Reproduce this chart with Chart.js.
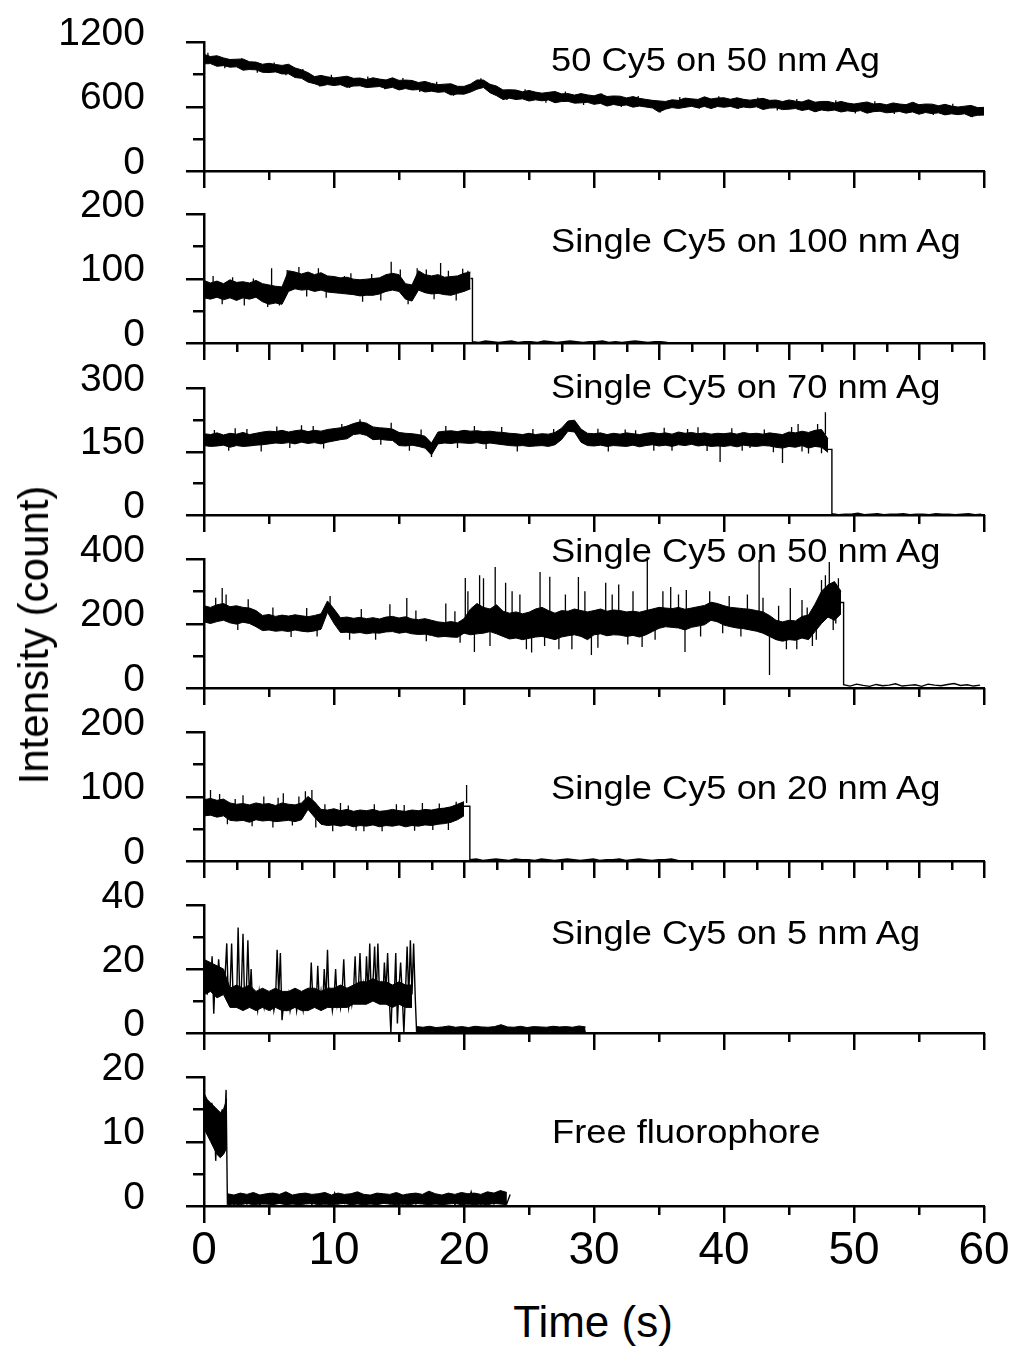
<!DOCTYPE html>
<html>
<head>
<meta charset="utf-8">
<script src="https://cdn.jsdelivr.net/npm/chart.js@4.4.1/dist/chart.umd.min.js"></script>
<style>
  html, body { margin: 0; padding: 0; background: #ffffff; }
  #wrap { position: relative; width: 1011px; height: 1349px; overflow: hidden; background: #fff; }
  #wrap canvas { position: absolute; left: 0; }
  .txt { position: absolute; font-family: 'Liberation Sans', Arial, Helvetica, sans-serif; color: #000; white-space: nowrap; line-height: 1; }
</style>
</head>
<body>
<div id="wrap"></div>
<script>
// ================= DATA =================
const panelLabels = [
  '50 Cy5 on 50 nm Ag',
  'Single Cy5 on 100 nm Ag',
  'Single Cy5 on 70 nm Ag',
  'Single Cy5 on 50 nm Ag',
  'Single Cy5 on 20 nm Ag',
  'Single Cy5 on 5 nm Ag',
  'Free fluorophore'
];
const xTickLabels = [0, 10, 20, 30, 40, 50, 60];
const xTitle = 'Time (s)';
const yTitle = 'Intensity (count)';

const p1YTicks = [0, 600, 1200];
const p2YTicks = [0, 100, 200];
const p3YTicks = [0, 150, 300];
const p4YTicks = [0, 200, 400];
const p5YTicks = [0, 100, 200];
const p6YTicks = [0, 20, 40];
const p7YTicks = [0, 10, 20];

// Dense noisy traces are read as an upper (Hi) and lower (Lo) envelope of the
// noise band, plus isolated spikes [time, band level, spike value], plus the
// bleached tail. Drops: [band end time, drop time, level before drop].

// ---- Panel 1: 50 Cy5 on 50 nm Ag ----
const p1EnvStart = 0, p1EnvStep = 0.5;
const p1Hi = [
  1085,1065,1072,1052,1037,1040,1042,1016,1013,993, 1002,991,982,993,959,941,915,878,889,876,
  866,874,882,862,865,851,867,855,847,867, 843,846,842,823,833,815,803,808,811,788,
  787,809,847,846,807,790,754,756,753,737, 749,734,724,732,739,718,720,706,720,708,
  699,718,693,698,696,680,692,676,666,657, 652,647,662,657,678,671,666,690,670,679,
  681,667,681,667,659,668,676,657,660,646, 661,650,642,663,640,647,647,633,647,632,
  623,633,642,624,628,616,633,623,617,639, 617,623,622,607,620,604,595,603,610,590,
  592
];
const p1Lo = [
  997,999,974,980,966,969,938,944,941,918, 916,922,903,904,870,862,827,812,791,804,
  795,803,778,790,793,776,781,786,768,778, 754,767,754,757,735,743,732,737,707,716,
  715,734,761,777,728,701,665,677,665,671, 651,662,653,661,635,646,648,631,634,639,
  620,629,604,619,608,614,594,604,595,586, 548,575,590,582,592,602,587,601,581,600,
  593,601,583,595,588,597,572,585,588,571, 575,581,563,574,551,568,559,567,549,560,
  552,562,538,552,556,541,547,554,538,550, 528,544,534,541,522,532,524,532,506,518,
  520
];
const p1Spikes = [
  [0.3,1040,1100],[1.6,1015,955],[2.9,990,1048],[4.1,973,915],[5.4,953,1010],[6.3,945,890],
  [7.6,895,950],[8.9,840,785],[9.8,838,895],[11.2,830,772],[12.6,822,880],[13.9,815,760],
  [15.3,806,865],[16.6,789,735],[17.9,773,830],[19.2,756,700],[21.3,805,862],[23.3,716,660],
  [24.7,702,760],[26.3,691,635],[27.8,681,740],[29.2,672,615],[30.6,662,720],[32.1,650,595],
  [33.4,640,698],[35.1,602,545],[36.6,628,688],[38.1,634,578],[39.6,636,695],[41.1,632,576],
  [42.6,626,683],[44.1,620,562],[45.6,612,670],[47.1,606,550],[48.6,600,658],[50.1,592,535],
  [51.6,589,648],[53.1,586,530],[54.6,584,642],[56.1,577,520],[57.6,567,625],[59.1,558,500]
];

// ---- Panel 2: Single Cy5 on 100 nm Ag ----
const p2EnvStart = 0, p2EnvStep = 0.5;
const p2Hi = [
  97,93,96,92,98,94,95,93,97,92, 90,88,87,112,110,107,110,106,109,104,
  103,101,102,99,98,99,100,101,106,108, 106,92,90,112,106,104,106,102,103,104,
  108,110
];
const p2Lo = [
  70,68,71,67,70,66,70,68,71,64, 60,62,60,80,84,82,83,80,82,79,
  78,77,76,75,73,74,74,76,80,82, 80,68,65,82,78,76,77,75,74,77,
  80,84
];
const p2Spikes = [
  [0.7,82,104],[1.4,82,60],[2.2,82,102],[3.1,82,58],[3.8,82,100],[4.9,70,56],[5.2,90,116],
  [5.8,70,58],[6.4,80,113],[7.3,95,118],[7.9,95,72],[8.8,94,116],[9.4,92,70],[10.8,95,104],
  [11.3,88,108],[12.2,86,64],[12.9,87,107],[13.6,88,66],[14.4,100,126],[15.1,93,114],
  [15.7,80,60],[16.4,80,116],[17.1,92,114],[17.7,90,68],[18.2,100,124],[18.8,89,112],
  [19.4,88,66],[19.9,92,115],[20.3,100,112]
];
const p2Drop = [20.5, 20.65, 100];
const p2OffStep = 0.5;
const p2Off = [2,1,3,2,1,2,3,1,2,2,1,3,2,1,2,3,2,1,2,2,3,1,2,1,2,3,2,1,2,2,1];

// ---- Panel 3: Single Cy5 on 70 nm Ag ----
const p3EnvStart = 0, p3EnvStep = 0.5;
const p3Hi = [
  192,190,194,189,193,191,195,190,193,196, 198,197,200,196,199,201,197,200,198,202,
  204,206,210,216,220,217,208,206,205,203, 195,193,192,190,186,170,196,198,199,197,
  200,198,199,197,198,196,195,193,192,190, 193,190,192,191,195,205,222,224,203,193,
  192,194,190,193,191,194,192,190,193,195, 192,194,191,196,193,195,192,194,191,193,
  192,194,191,195,192,193,191,194,192,190, 196,194,198,195,200,202,180
];
const p3Lo = [
  164,162,163,165,160,164,162,163,165,166, 168,170,169,171,168,172,169,171,168,172,
  175,178,180,190,192,188,178,179,177,176, 164,163,165,162,158,142,168,170,169,171,
  170,169,171,168,170,168,166,164,163,164, 162,163,164,162,166,178,198,196,172,164,
  163,165,162,164,163,162,165,161,164,166, 163,165,162,166,164,167,163,165,162,163,
  162,164,161,165,163,162,164,163,160,158, 162,160,164,158,162,160,148
];
const p3Spikes = [
  [0.8,177,201],[1.9,177,152],[2.4,185,205],[3.3,177,203],[4.4,177,150],[5.6,184,209],
  [6.6,184,158],[7.5,190,212],[8.4,184,210],[9.2,184,157],[10.6,190,215],[12.0,200,226],
  [13.6,192,166],[14.4,192,218],[15.8,178,152],[16.7,178,202],[17.5,150,137],[18.6,184,210],
  [19.5,184,158],[20.8,184,210],[21.7,184,156],[22.9,184,208],[24.1,178,150],[25.3,178,203],
  [26.9,185,203],[30.3,178,204],[31.1,178,150],[32.4,178,202],[33.2,180,200],[34.6,178,152],
  [35.4,178,206],[36.0,175,152],[37.2,178,203],[38.0,190,207],[38.7,178,151],[39.7,165,125],
  [40.6,178,205],[41.4,178,152],[42.0,180,158],[43.1,178,202],[43.8,178,148],[44.5,165,123],
  [45.2,178,208],[45.7,190,215],[46.0,178,150],[46.5,170,145],[47.2,185,215],[47.5,178,146],
  [47.8,190,243]
];
const p3Drop = [48.0, 48.3, 155];
const p3OffStep = 0.5;
const p3Off = [3,1,2,2,4,1,2,3,1,2,2,3,1,2,2,1,3,2,2,1,2,3,1,2];

// ---- Panel 4: Single Cy5 on 50 nm Ag ----
const p4EnvStart = 0, p4EnvStep = 0.5;
const p4Hi = [
  255,250,258,262,252,255,250,248,240,225, 228,222,226,223,227,224,221,225,230,270,
  245,218,220,216,219,215,218,214,220,222, 217,221,214,212,215,210,205,203,206,202,
  215,245,262,250,245,258,238,232,236,230, 235,245,250,240,232,240,238,245,240,236,
  240,245,238,242,240,236,238,235,240,245, 250,248,246,250,244,248,252,256,266,262,
  255,250,248,246,244,240,236,225,210,205, 210,208,222,226,260,300,320,330,300
];
const p4Lo = [
  205,200,206,210,202,198,204,200,190,178, 180,176,178,175,180,176,174,177,182,235,
  200,172,173,170,172,168,171,170,174,175, 170,173,168,166,167,163,158,160,158,157,
  170,165,168,170,175,168,160,152,155,150, 154,158,160,155,150,158,162,165,160,150,
  165,168,162,165,164,160,163,158,165,175, 185,190,188,186,180,188,192,196,210,205,
  195,190,186,184,180,176,170,160,150,145, 150,148,155,150,175,200,220,210,230
];
const p4Spikes = [
  [0.9,230,280],[1.4,240,310],[1.7,230,290],[2.6,225,180],[3.4,225,275],[5.3,200,250],
  [6.7,200,158],[7.9,200,248],[8.7,200,160],[9.7,250,285],[11.2,195,150],[12.1,195,245],
  [13.2,195,150],[14.3,200,260],[15.6,200,279],[16.3,190,240],[17.1,190,145],[18.6,200,262],
  [19.3,180,238],[19.7,180,140],[20.1,210,341],[20.3,200,300],[20.8,180,112],[21.2,250,350],
  [21.5,200,340],[22.0,200,130],[22.4,250,375],[23.2,230,326],[23.7,190,300],[24.3,220,290],
  [24.8,180,120],[25.2,190,110],[25.85,230,360],[26.2,170,130],[26.6,230,345],[27.3,170,120],
  [27.8,200,290],[28.3,200,120],[28.8,230,344],[29.3,200,300],[29.8,160,102],[30.3,200,125],
  [30.9,230,326],[31.4,200,290],[31.9,230,321],[32.6,180,135],[33.0,200,300],[33.7,170,127],
  [34.1,230,397],[34.7,210,150],[35.3,220,300],[35.9,240,313],[36.5,240,290],[37.0,200,112],
  [37.1,240,304],[38.2,225,160],[38.9,225,300],[39.9,230,170],[40.4,230,285],[41.3,200,160],
  [41.8,215,290],[42.7,230,397],[43.0,205,280],[43.5,180,40],[44.2,180,255],[44.8,160,120],
  [45.1,200,310],[45.6,175,120],[46.0,210,273],[46.4,180,250],[46.8,190,130],[47.1,220,150],
  [47.5,280,335],[47.8,260,350],[48.1,300,391],[48.4,250,180],[48.6,280,200],[48.8,300,340]
];
const p4Drop = [49.0, 49.2, 265];
const p4OffStep = 0.5;
const p4Off = [10,6,12,8,5,11,7,9,13,6,8,10,5,12,9,7,11,14,8,10,6,9];

// ---- Panel 5: Single Cy5 on 20 nm Ag ----
const p5EnvStart = 0, p5EnvStep = 0.5;
const p5Hi = [
  95,97,94,96,90,88,89,87,90,88, 89,86,90,88,87,90,100,92,80,79,
  81,78,80,77,79,78,80,77,78,80, 78,77,79,78,80,79,81,82,84,88,
  92
];
const p5Lo = [
  70,71,68,70,63,62,63,60,64,62, 63,61,62,63,61,64,80,68,57,55,
  56,54,56,53,55,54,56,53,55,54, 56,53,55,54,56,55,57,58,60,64,
  70
];
const p5Spikes = [
  [0.5,90,110],[1.2,85,104],[1.8,70,57],[2.4,75,96],[3.0,80,102],[3.7,75,54],[4.6,80,100],
  [5.3,70,52],[5.7,75,98],[6.1,80,105],[6.8,75,55],[7.3,75,100],[7.8,85,108],[8.3,90,110],
  [8.6,70,52],[9.3,66,88],[9.9,66,46],[10.5,70,90],[11.1,66,86],[11.7,66,47],[12.3,65,46],
  [13.1,66,88],[13.7,66,46],[14.8,70,88],[15.4,66,87],[16.2,66,47],[16.8,70,90],[17.6,65,48],
  [18.1,66,89],[18.8,66,48],[19.4,70,92],[20.2,90,118]
];
const p5Drop = [20.0, 20.45, 85];
const p5OffStep = 0.5;
const p5Off = [2,3,1,2,3,2,1,3,2,2,1,3,2,1,2,3,2,1,2,3,1,2,2,3,1,2,3,2,1,2,2,3,1];

// ---- Panel 6: Single Cy5 on 5 nm Ag ----
const p6EnvStart = 0, p6EnvStep = 0.5;
const p6Hi = [23,22,21,20,14,15,14,15,13,14, 13,14,13,13,14,13,14,14,13,14, 14,15,14,15,16,16,17,16,16,15, 16,15,15];
const p6Lo = [12,13,11,12,8,8,7,8,7,8, 7,8,7,7,8,7,7,8,7,8, 8,8,8,9,9,9,10,9,9,8, 9,8,8];
const p6OnStart = 0, p6OnStep = 0.125;
const p6On = [
  22,17,12,21,15,24,6,19,14,23,16,20,13,18,
  28,10,13,28,9,12,8,33,11,14,31,9,12,29,10,20,8,12,10,7,13,9,11,8,12,9,11,
  8,12,7,10,26,12,25,4,9,
  11,8,12,7,10,9,12,7,11,8,10,7,12,9,11,
  9,22,10,12,8,21,9,13,8,20,10,26,9,12,7,11,20,9,12,8,13,23,10,12,8,14,9,13,24,10,14,
  25,11,15,9,24,12,28,10,16,27,11,28,12,15,10,22,13,25,11,0,14,10,25,3,14,22,12,0,13,27,11,29,12,28,11
];
const p6OffStart = 16.35, p6OffStep = 0.25;
const p6Off = [
  0.6,1.2,0.3,1.0,0.5,1.4,0.2,1.1,0.6,1.3,0.3,0.9,0.5,1.5,0.2,1.1,0.4,1.2,0.3,1.0,
  0.6,1.3,0.2,1.1,0.5,2.0,0.3,1.2,0.4,1.0,0.6,1.4,0.2,1.1,0.5,1.3,0.3,1.0,0.4,1.2,
  0.3,1.5,0.5,1.1,0.2,1.3,0.4,1.0,0.6,1.2,0.3,1.4,0.5
];
const p6OffEnvStart = 16.35, p6OffEnvStep = 0.5;
const p6OffHi = [2.0,1.8,2.1,1.7,1.9,2.2,1.8,2.0,1.7,2.1,1.9,1.8,2.0,2.6,1.9,1.8,2.1,1.7,2.0,1.9,1.8,2.1,1.9,2.0,1.8,2.2,1.9];
const p6OffLo = [0.3,0.2,0.4,0.3,0.2,0.3,0.4,0.2,0.3,0.3,0.2,0.4,0.3,0.2,0.3,0.4,0.2,0.3,0.3,0.2,0.4,0.3,0.2,0.3,0.4,0.2,0.3];

// ---- Panel 7: Free fluorophore ----
const p7EnvStart = 0, p7EnvStep = 0.25;
const p7Hi = [17.5,16.5,16,15.5,15,14.5,15,16.5];
const p7Lo = [12,11,10,9,8,7.5,8,9];
const p7OnStart = 0, p7OnStep = 0.1;
const p7On = [17,13,16.5,11,15,12,16,10,14,7,12,8,14,10,15,9,13,18];
const p7OffStart = 1.8, p7OffStep = 0.25;
const p7Off = [
  0.4,1.3,0.2,1.1,0.5,1.6,0.3,1.2,0.6,1.4,0.2,1.0,0.4,1.8,0.3,1.2,0.5,1.3,0.2,1.5,
  0.4,1.1,0.3,1.4,0.6,1.2,0.2,1.6,0.4,1.1,0.3,1.3,0.5,2.0,0.3,1.2,0.4,1.4,0.2,1.1,
  0.5,1.5,0.3,1.2,0.4,1.3,0.2,1.6,0.5,1.1,0.3,1.4,0.4,1.2,0.2,1.7,0.4,1.3,0.3,1.1,
  0.5,1.4,0.2,1.2,0.4,1.5,0.3,1.3,0.5,1.6,0.2,1.2,0.4,1.4,0.3,2.2,0.5,1.3,0.2,1.5,
  0.4,1.2,0.3,1.6,0.5,1.3,0.4,1.8
];
const p7OffEnvStart = 1.8, p7OffEnvStep = 0.5;
const p7OffHi = [1.9,1.7,2.0,1.8,2.1,1.7,1.9,2.0,1.8,2.2,1.7,1.9,2.0,1.8,1.9,2.1,1.7,2.0,1.8,1.9,2.2,1.8,1.7,2.0,1.9,1.8,2.1,1.7,1.9,2.0,1.8,2.3,1.9,1.7,2.0,1.8,2.1,1.9,2.0,1.8,2.2,2.0,2.4,2.1];
const p7OffLo = [0.2,0.3,0.2,0.4,0.2,0.3,0.3,0.2,0.4,0.2,0.3,0.2,0.3,0.4,0.2,0.3,0.2,0.3,0.4,0.2,0.3,0.2,0.3,0.2,0.4,0.3,0.2,0.3,0.2,0.4,0.3,0.2,0.3,0.2,0.3,0.4,0.2,0.3,0.2,0.3,0.2,0.4,0.3,0.2];

// ================= BUILD =================
function seg(start, step, vals) {
  return vals.map((v, i) => ({ x: Math.round((start + i * step) * 10000) / 10000, y: v }));
}
function spikePts(list) {
  const out = [];
  list.forEach(([t, base, peak]) => { out.push({ x: t, y: base }, { x: t, y: peak }, { x: t, y: null }); });
  return out;
}
function tail(drop, step, vals) {
  const [from, at, level] = drop;
  return [{ x: from, y: level }, { x: at, y: level }].concat(seg(at, step, vals));
}

const panels = [
  { yTicks: p1YTicks, xMajor: 10,
    bands: [[seg(p1EnvStart, p1EnvStep, p1Lo), seg(p1EnvStart, p1EnvStep, p1Hi)]],
    spikes: p1Spikes, lines: [] },
  { yTicks: p2YTicks, xMajor: 5,
    bands: [[seg(p2EnvStart, p2EnvStep, p2Lo), seg(p2EnvStart, p2EnvStep, p2Hi)]],
    spikes: p2Spikes, lines: [tail(p2Drop, p2OffStep, p2Off)] },
  { yTicks: p3YTicks, xMajor: 10,
    bands: [[seg(p3EnvStart, p3EnvStep, p3Lo), seg(p3EnvStart, p3EnvStep, p3Hi)]],
    spikes: p3Spikes, lines: [tail(p3Drop, p3OffStep, p3Off)] },
  { yTicks: p4YTicks, xMajor: 10,
    bands: [[seg(p4EnvStart, p4EnvStep, p4Lo), seg(p4EnvStart, p4EnvStep, p4Hi)]],
    spikes: p4Spikes, lines: [tail(p4Drop, p4OffStep, p4Off)] },
  { yTicks: p5YTicks, xMajor: 5,
    bands: [[seg(p5EnvStart, p5EnvStep, p5Lo), seg(p5EnvStart, p5EnvStep, p5Hi)]],
    spikes: p5Spikes, lines: [tail(p5Drop, p5OffStep, p5Off)] },
  { yTicks: p6YTicks, xMajor: 10,
    bands: [[seg(p6EnvStart, p6EnvStep, p6Lo), seg(p6EnvStart, p6EnvStep, p6Hi)],
            [seg(p6OffEnvStart, p6OffEnvStep, p6OffLo), seg(p6OffEnvStart, p6OffEnvStep, p6OffHi)]],
    spikes: [], lines: [seg(p6OnStart, p6OnStep, p6On).concat(seg(p6OffStart, p6OffStep, p6Off))] },
  { yTicks: p7YTicks, xMajor: 10,
    bands: [[seg(p7EnvStart, p7EnvStep, p7Lo), seg(p7EnvStart, p7EnvStep, p7Hi)],
            [seg(p7OffEnvStart, p7OffEnvStep, p7OffLo), seg(p7OffEnvStart, p7OffEnvStep, p7OffHi)]],
    spikes: [], lines: [seg(p7OnStart, p7OnStep, p7On).concat(seg(p7OffStart, p7OffStep, p7Off))] }
];

// layout (pixel geometry of each panel's plot area)
const geom = [
  { top: 42,   bottom: 171,  labelCy: 59 },
  { top: 214,  bottom: 343,  labelCy: 240 },
  { top: 388,  bottom: 515,  labelCy: 386 },
  { top: 559,  bottom: 688,  labelCy: 550 },
  { top: 732,  bottom: 861,  labelCy: 787 },
  { top: 905,  bottom: 1033, labelCy: 932 },
  { top: 1077, bottom: 1206, labelCy: 1131 }
];

const FONT = "'Liberation Sans', Arial, Helvetica, sans-serif";
const AXIS_W = 2.5;
const Y_AXIS_WIDTH = 204;
const RIGHT_PAD = 27;
const TOP_PAD = 30;

const minorTicks = {
  id: 'minorTicks',
  afterDraw(chart) {
    const o = chart.options.plugins.minorTicks;
    const { ctx, chartArea: a, scales: { x, y } } = chart;
    ctx.save();
    ctx.strokeStyle = '#000';
    ctx.lineWidth = AXIS_W;
    ctx.lineCap = 'butt';
    const xMinor = o.xMajor / 2;
    for (let k = 0; k * xMinor <= x.max + 1e-9; k++) {
      const px = Math.round(x.getPixelForValue(k * xMinor)) + 0.25;
      const len = (k % 2 === 0) ? 17 : 9;
      ctx.beginPath(); ctx.moveTo(px, a.bottom); ctx.lineTo(px, a.bottom + len); ctx.stroke();
    }
    const yMinor = (o.yTicks[1] - o.yTicks[0]) / 2;
    for (let k = 0; k * yMinor <= y.max + 1e-9; k++) {
      const py = Math.round(y.getPixelForValue(k * yMinor)) + 0.25;
      const len = (k % 2 === 0) ? 18 : 11;
      ctx.beginPath(); ctx.moveTo(a.left, py); ctx.lineTo(a.left - len, py); ctx.stroke();
    }
    ctx.restore();
  }
};

const wrap = document.getElementById('wrap');

panels.forEach((p, idx) => {
  const g = geom[idx];
  const isLast = idx === panels.length - 1;
  const xH = isLast ? 80 : 30;
  const h = (g.bottom - g.top) + TOP_PAD + xH;
  const cv = document.createElement('canvas');
  cv.width = 1011; cv.height = h;
  cv.style.width = '1011px'; cv.style.height = h + 'px';
  cv.style.top = (g.top - TOP_PAD) + 'px';
  wrap.appendChild(cv);
  const yMax = p.yTicks[p.yTicks.length - 1];

  const datasets = [];
  p.bands.forEach(([lo, hi]) => {
    datasets.push({ data: lo, borderColor: '#000', borderWidth: 1, pointRadius: 0, tension: 0, fill: false });
    datasets.push({ data: hi, borderColor: '#000', borderWidth: 1, pointRadius: 0, tension: 0, fill: '-1', backgroundColor: '#000' });
  });
  if (p.spikes.length) {
    datasets.push({ data: spikePts(p.spikes), borderColor: '#000', borderWidth: 1.3, pointRadius: 0, spanGaps: false, fill: false });
  }
  p.lines.forEach(pts => {
    datasets.push({ data: pts, borderColor: '#000', borderWidth: 1.4, pointRadius: 0, tension: 0, fill: false });
  });

  new Chart(cv.getContext('2d'), {
    type: 'line',
    data: { datasets },
    options: {
      responsive: false,
      maintainAspectRatio: false,
      animation: false,
      events: [],
      devicePixelRatio: 1,
      layout: { padding: { top: TOP_PAD, right: RIGHT_PAD, left: 0, bottom: 0 } },
      plugins: {
        legend: { display: false },
        tooltip: { enabled: false },
        minorTicks: { xMajor: p.xMajor, yTicks: p.yTicks }
      },
      scales: {
        x: {
          type: 'linear',
          min: 0, max: 60,
          afterFit(s) { s.height = xH; s.paddingLeft = 0; s.paddingRight = 0; },
          grid: { display: false, drawTicks: false },
          border: { display: true, color: '#000', width: AXIS_W },
          ticks: {
            display: isLast,
            stepSize: 10,
            autoSkip: false,
            maxRotation: 0,
            color: '#000',
            padding: 18,
            font: { family: FONT, size: 46 },
            callback: (v) => (xTickLabels.includes(v) ? String(v) : '')
          }
        },
        y: {
          type: 'linear',
          min: 0, max: yMax,
          afterFit(s) { s.width = Y_AXIS_WIDTH; s.paddingTop = 0; s.paddingBottom = 0; },
          grid: { display: false, drawTicks: false },
          border: { display: true, color: '#000', width: AXIS_W },
          ticks: {
            stepSize: p.yTicks[1] - p.yTicks[0],
            color: '#000',
            padding: 59,
            labelOffset: -8,
            font: { family: FONT, size: 39 },
            callback: (v) => (p.yTicks.includes(v) ? String(v) : '')
          }
        }
      }
    },
    plugins: [minorTicks]
  });

  const d = document.createElement('div');
  d.className = 'txt';
  const fs = 33;
  d.style.fontSize = fs + 'px';
  d.style.left = (idx === 6 ? 552 : 551) + 'px';
  d.style.top = (g.labelCy - 0.4885 * fs) + 'px';
  d.style.transformOrigin = '0 50%';
  d.style.transform = 'scaleX(1.1)';
  d.textContent = panelLabels[idx];
  wrap.appendChild(d);
});

const xt = document.createElement('div');
xt.className = 'txt';
xt.style.fontSize = '44px';
xt.style.left = '593px';
xt.style.top = '1322px';
xt.style.transform = 'translate(-50%, -50%)';
xt.textContent = xTitle;
wrap.appendChild(xt);

const yt = document.createElement('div');
yt.className = 'txt';
yt.style.fontSize = '42px';
yt.style.left = '34px';
yt.style.top = '635px';
yt.style.transform = 'translate(-50%, -50%) rotate(-90deg)';
yt.textContent = yTitle;
wrap.appendChild(yt);
</script>
</body>
</html>
